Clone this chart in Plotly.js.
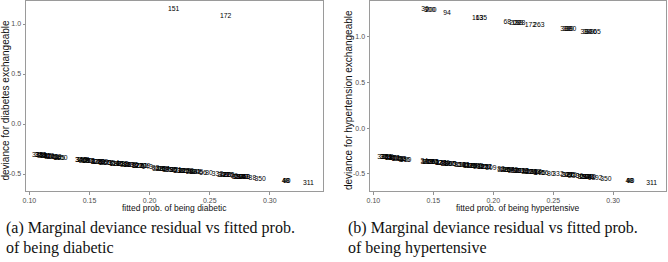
<!DOCTYPE html>
<html>
<head>
<meta charset="utf-8">
<script src="https://cdn.plot.ly/plotly-3.0.1.min.js"></script>
<style>html,body{margin:0;padding:0;background:#fff;}#chart{width:668px;height:262px;}</style>
</head>
<body>
<div id="chart"></div>
<script>
// ---------- Panel (a): diabetes ----------
const xDiabNeg = [0.107,0.108,0.109,0.110,0.111,0.112,0.113,0.115,0.116,0.117,0.119,0.120,0.122,0.123,0.125,0.127,
  0.141,0.143,0.144,0.145,0.146,0.147,0.148,0.150,0.151,
  0.154,0.156,0.157,0.158,0.160,0.161,0.162,0.163,0.165,
  0.168,0.170,0.171,0.172,0.174,0.175,0.177,0.178,0.180,0.181,0.183,0.185,0.186,0.188,0.190,0.191,0.193,0.195,0.196,0.198,
  0.205,0.207,0.209,0.210,0.212,0.213,0.215,0.217,0.218,0.220,0.222,0.224,0.225,0.227,0.228,0.230,0.232,0.233,0.235,0.237,0.238,0.240,
  0.2445,0.2495,0.2565,
  0.261,0.262,0.263,0.264,0.265,0.266,
  0.2705,0.273,0.274,0.275,0.276,0.277,0.278,0.279,0.280,0.2855,0.292,
  0.3130,0.3135,0.3140,0.332];
const yDiabNeg = [-0.312,-0.314,-0.316,-0.318,-0.320,-0.322,-0.323,-0.326,-0.328,-0.330,-0.333,-0.334,-0.337,-0.339,-0.342,-0.345,
  -0.364,-0.366,-0.367,-0.368,-0.369,-0.370,-0.371,-0.373,-0.374,
  -0.381,-0.383,-0.384,-0.385,-0.387,-0.388,-0.389,-0.390,-0.392,
  -0.395,-0.398,-0.399,-0.400,-0.403,-0.404,-0.406,-0.408,-0.410,-0.411,-0.413,-0.416,-0.417,-0.419,-0.421,-0.423,-0.425,-0.427,-0.428,-0.431,
  -0.448,-0.450,-0.452,-0.453,-0.455,-0.456,-0.459,-0.461,-0.462,-0.464,-0.467,-0.469,-0.470,-0.472,-0.474,-0.476,-0.478,-0.479,-0.482,-0.484,-0.485,-0.488,
  -0.495,-0.497,-0.507,
  -0.511,-0.512,-0.514,-0.515,-0.516,-0.518,
  -0.527,-0.529,-0.531,-0.532,-0.534,-0.535,-0.536,-0.537,-0.538,-0.543,-0.555,
  -0.570,-0.571,-0.572,-0.596];
const labDiabNeg = ['329','31','323','361','388','36','131','87','210','301','243','261','218','16','345','150',
  '34','342','119','277','205','58','190','266','72',
  '32','328','141','270','99','229','187','305','60',
  '3','354','112','283','201','46','176','239','318','84','257','133','296','12','377','166','227','51','309','143',
  '83','346','115','289','204','67','178','252','330','95','271','138','312','21','366','159','233','74','298','124','341','105',
  '56','80','332',
  '249','371','186','27','315','230',
  '36','357','192','264','101','349','171','240','63','88','350',
  '40','48','90','311'];
const xDiabPos = [0.220,0.2633];
const yDiabPos = [1.145,1.077];
const labDiabPos = ['151','172'];

// ---------- Panel (b): hypertension ----------
const xHypNeg = [0.108,0.109,0.110,0.111,0.112,0.113,0.114,0.116,0.117,0.118,0.120,0.121,0.123,0.124,0.126,0.127,
  0.1425,0.144,0.145,0.146,0.147,0.148,0.149,0.150,0.151,
  0.155,0.156,0.157,0.159,0.160,0.161,0.163,0.164,0.166,0.168,
  0.172,0.173,0.175,0.176,0.178,0.179,0.181,0.182,0.184,0.185,0.187,0.188,0.190,0.191,0.193,0.194,0.196,0.198,
  0.2065,0.208,0.210,0.211,0.213,0.214,0.216,0.217,0.219,0.220,0.222,0.224,0.225,0.227,0.228,0.230,0.232,0.233,0.235,0.236,0.238,0.239,
  0.243,0.248,0.254,
  0.261,0.262,0.263,0.264,0.265,0.267,
  0.272,0.275,0.276,0.277,0.278,0.279,0.280,0.281,0.282,0.288,0.294,
  0.3135,0.3140,0.3145,0.332];
const yHypNeg = [-0.315,-0.317,-0.319,-0.321,-0.323,-0.325,-0.327,-0.330,-0.332,-0.334,-0.337,-0.339,-0.342,-0.344,-0.347,-0.350,
  -0.366,-0.368,-0.369,-0.370,-0.371,-0.372,-0.373,-0.374,-0.376,
  -0.384,-0.385,-0.386,-0.388,-0.389,-0.390,-0.392,-0.393,-0.395,-0.397,
  -0.405,-0.406,-0.408,-0.409,-0.411,-0.413,-0.415,-0.416,-0.418,-0.419,-0.421,-0.423,-0.425,-0.426,-0.428,-0.430,-0.432,-0.435,
  -0.454,-0.456,-0.458,-0.459,-0.461,-0.463,-0.465,-0.466,-0.468,-0.469,-0.471,-0.473,-0.474,-0.476,-0.478,-0.480,-0.482,-0.483,-0.485,-0.486,-0.488,-0.490,
  -0.498,-0.501,-0.508,
  -0.516,-0.517,-0.518,-0.519,-0.520,-0.522,
  -0.530,-0.533,-0.535,-0.536,-0.537,-0.538,-0.540,-0.541,-0.542,-0.548,-0.563,
  -0.576,-0.577,-0.578,-0.599];
const labHypNeg = ['329','32','323','361','318','36','131','87','210','301','243','261','218','16','345','150',
  '34','342','119','277','205','58','190','266','72',
  '32','328','141','270','99','229','187','305','60','3',
  '354','112','283','201','46','176','239','319','84','257','133','296','12','377','166','227','51','309',
  '83','346','115','289','204','67','178','252','330','95','271','138','312','21','366','159','233','74','298','124','341','105',
  '56','80','332',
  '249','371','186','27','315','230',
  '36','357','192','264','101','349','171','240','63','92','350',
  '40','48','90','311'];
const xHypPos = [0.1430,0.1470,0.1480,0.1614,0.1870,0.1900,0.2117,0.2180,0.2200,0.2220,0.2310,0.2380,0.2605,0.2625,0.2645,0.2775,0.2795,0.2815,0.2865];
const yHypPos = [1.295,1.292,1.290,1.259,1.205,1.203,1.160,1.145,1.143,1.141,1.124,1.120,1.085,1.083,1.082,1.053,1.052,1.051,1.050];
const labHypPos = ['30','300','200','94','163','135','68','208','198','228','172','263','388','389','380','384','389','330','65'];

const xTicks = [0.10,0.15,0.20,0.25,0.30];
const xTickText = ['0.10','0.15','0.20','0.25','0.30'];
const yTicks = [-0.5,0.0,0.5,1.0];
const yTickText = ['-0.5','0.0','0.5','1.0'];

const W = 668, H = 262;
const px = v => v / W;
const py = v => 1 - v / H;

const txtFont = {family:'Liberation Sans, Arial, sans-serif', size:6.8, color:'#000'};
function textTrace(x, y, t, xa, ya) {
  return {x:x, y:y, text:t, mode:'text', type:'scatter', textposition:'middle center',
    textfont:txtFont, xaxis:xa, yaxis:ya, hoverinfo:'skip', cliponaxis:false};
}
const data = [
  textTrace(xDiabNeg, yDiabNeg, labDiabNeg, 'x', 'y'),
  textTrace(xDiabPos, yDiabPos, labDiabPos, 'x', 'y'),
  textTrace(xHypNeg, yHypNeg, labHypNeg, 'x2', 'y2'),
  textTrace(xHypPos, yHypPos, labHypPos, 'x2', 'y2')
];

const tickFont = {family:'Liberation Sans, Arial, sans-serif', size:7, color:'#4d4d4d'};
function xAx(dom, anchor) {
  return {domain:dom, anchor:anchor, range:[0.0972,0.3438], tickvals:xTicks, ticktext:xTickText,
    showgrid:false, zeroline:false, showline:true, mirror:true, linecolor:'#9a9a9a', linewidth:1,
    ticks:'outside', ticklen:2.5, tickwidth:0.8, tickcolor:'#777', tickfont:tickFont, automargin:false, fixedrange:true};
}
function yAx(dom, anchor, rng) {
  return {domain:dom, anchor:anchor, range:rng, tickvals:yTicks, ticktext:yTickText,
    showgrid:false, zeroline:false, showline:true, mirror:true, linecolor:'#9a9a9a', linewidth:1,
    ticks:'outside', ticklen:2.5, tickwidth:0.8, tickcolor:'#777', tickfont:tickFont, automargin:false, fixedrange:true};
}

const axTitleFont = {family:'Liberation Sans, Arial, sans-serif', size:8.5, color:'#111'};
const yTitleFont = {family:'Liberation Sans, Arial, sans-serif', size:10, color:'#111'};
const capFont = {family:'Liberation Serif, Times New Roman, serif', size:16, color:'#111'};
function ann(text, x, y, font, opts) {
  return Object.assign({text:text, x:x, y:y, xref:'paper', yref:'paper', showarrow:false, font:font,
    xanchor:'center', yanchor:'middle'}, opts || {});
}

const layout = {
  width:W, height:H, margin:{l:0,r:0,t:0,b:0}, showlegend:false,
  paper_bgcolor:'#fff', plot_bgcolor:'#fff',
  xaxis: xAx([px(26), px(322.5)], 'y'),
  yaxis: yAx([py(191), py(1)], 'x', [-0.67, 1.23]),
  xaxis2: xAx([px(370), px(665.7)], 'y2'),
  yaxis2: yAx([py(191), py(1)], 'x2', [-0.686, 1.39]),
  annotations: [
    ann('fitted prob. of being diabetic', px(174.5), py(208), axTitleFont),
    ann('fitted prob. of being hypertensive', px(518), py(208), axTitleFont),
    ann('deviance for diabetes exchangeable', px(5.5), py(100), yTitleFont, {textangle:-90}),
    ann('deviance for hypertension exchangeable', px(349), py(100), yTitleFont, {textangle:-90}),
    ann('(a) Marginal deviance residual vs fitted prob.', px(4), py(228), capFont, {xanchor:'left'}),
    ann('of being diabetic', px(4), py(248), capFont, {xanchor:'left'}),
    ann('(b) Marginal deviance residual vs fitted prob.', px(346), py(228), capFont, {xanchor:'left'}),
    ann('of being hypertensive', px(346), py(248), capFont, {xanchor:'left'})
  ]
};

Plotly.newPlot('chart', data, layout, {staticPlot:true, displayModeBar:false});
</script>
</body>
</html>
